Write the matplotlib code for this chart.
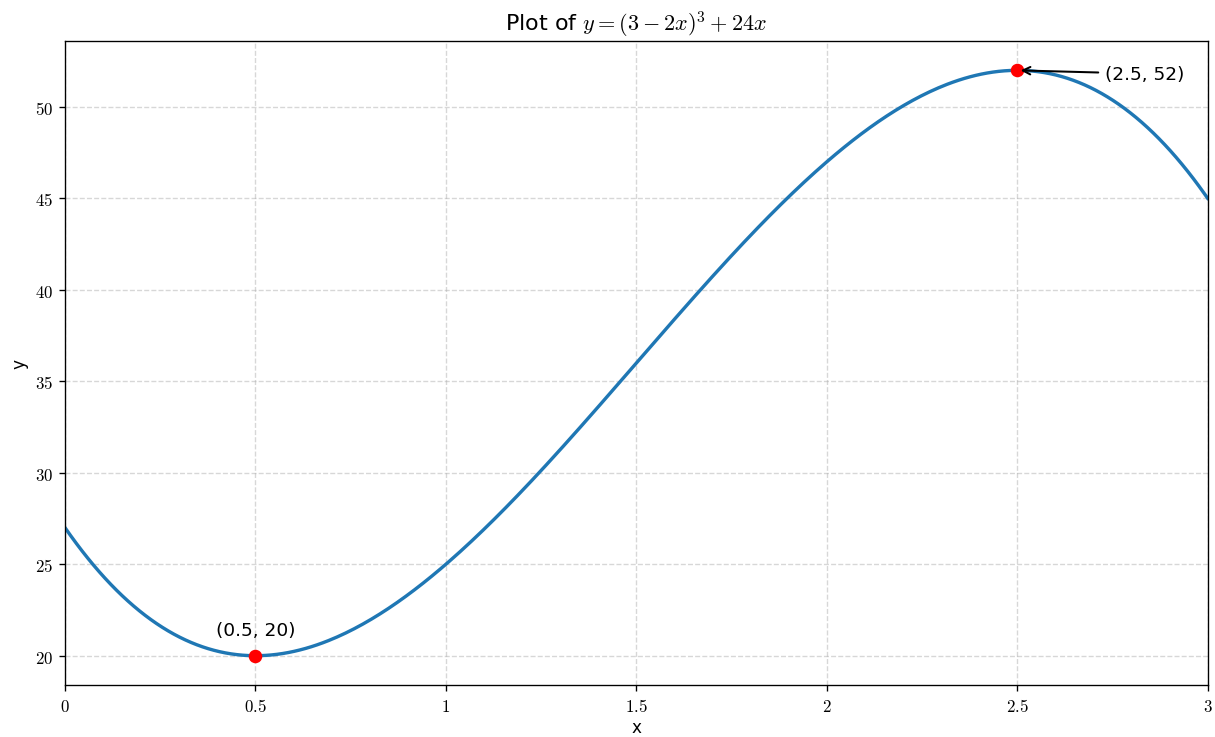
import numpy as np
import matplotlib
matplotlib.use("Agg")
import matplotlib.pyplot as plt
from matplotlib.ticker import FuncFormatter

plt.rcParams['mathtext.fontset'] = 'cm'

# curve from the title: y = (3 - 2x)^3 + 24x, drawn on [0, 3]
x_range = [0.0, 3.0]
n_samples = 400

# turning points marked on the chart
crit_x = [0.5, 2.5]
crit_y = [20, 52]
crit_labels = ['(0.5, 20)', '(2.5, 52)']


def f(x):
    return (3 - 2 * x) ** 3 + 24 * x


xs = np.linspace(x_range[0], x_range[1], n_samples)
ys = f(xs)

fig = plt.figure(figsize=(10, 6.074), dpi=121.5)
ax = fig.add_subplot(111)
fig.subplots_adjust(left=0.0535, right=0.994, top=0.943, bottom=0.0705)

ax.plot(xs, ys, color='tab:blue', lw=2)
ax.plot(crit_x, crit_y, 'o', color='red', ms=7, zorder=3)

# min label above the point, max label off to the right with an arrow
ax.annotate(crit_labels[0], xy=(crit_x[0], crit_y[0]), xytext=(0, 10),
            textcoords='offset points', ha='center', va='bottom', fontsize=11)
ax.annotate(crit_labels[1], xy=(crit_x[1], crit_y[1]), xytext=(52, -2),
            textcoords='offset points', ha='left', va='center', fontsize=11,
            arrowprops=dict(arrowstyle='->', color='black', lw=1.2))

ax.set_xlim(x_range)
ax.set_title(r'Plot of $y=(3-2x)^3+24x$', fontsize=13.2)
ax.set_xlabel('x', labelpad=2)
ax.set_ylabel('y')
ax.grid(True, ls='--', alpha=0.5)

fmt = FuncFormatter(lambda v, p: r'$%g$' % v)
ax.xaxis.set_major_formatter(fmt)
ax.yaxis.set_major_formatter(fmt)

fig.savefig('out.png')
